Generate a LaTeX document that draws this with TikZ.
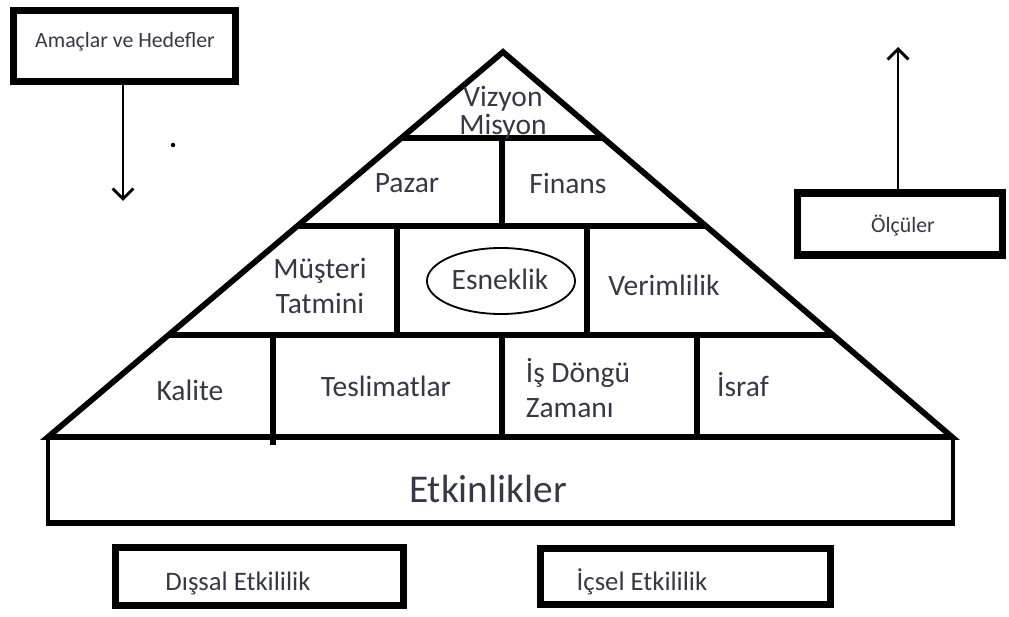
\documentclass[tikz,border=0pt]{standalone}
\usepackage{fontspec}
\setmainfont{Carlito}
\usepackage{xcolor}
\usetikzlibrary{arrows.meta,positioning,calc,shapes.geometric}

\definecolor{labelgray}{RGB}{55,55,72}

\tikzset{
  lbl/.style={text=labelgray,align=center,inner sep=0pt,font=\fontsize{21}{25}\selectfont},
  smalllbl/.style={lbl,font=\fontsize{15.5}{18}\selectfont},
  heavybox/.style={draw,line width=5pt,inner sep=0pt},
  pyr/.style={line width=4.1pt,line join=miter},
  openarrow/.style={line width=2.1pt,-{Straight Barb[length=2.6mm,width=5.2mm,line width=2.1pt]}}
}

\begin{document}
\begin{tikzpicture}[x=0.025cm,y=-0.025cm]
  \useasboundingbox (0,0) rectangle (1009,617);

  % side boxes
  \node[heavybox,minimum width=5.54cm,minimum height=1.79cm] (goals) at (124.5,46) {};
  \node[smalllbl] (goalstext) at (125,42) {Amaçlar ve Hedefler};
  \coordinate (goalsend) at (123,201);
  \draw[openarrow] (goals.south -| goalsend) -- (goalsend);
  \fill (173,145) circle[radius=1.6pt];

  \node[heavybox,minimum width=5.1cm,minimum height=1.55cm] (measures) at (900,224) {};
  \node[smalllbl] (measurestext) at (903,226) {Ölçüler};
  \coordinate (measuresend) at (898,47);
  \draw[openarrow] (measures.north -| measuresend) -- (measuresend);

  % pyramid outline and rows
  \coordinate (apex) at (503,52);
  \coordinate (bl) at (48,437);
  \coordinate (br) at (952,437);
  \draw[pyr] (bl) -- (apex) -- (br) -- cycle;
  \draw[pyr] ($(apex)!0.2234!(bl)$) -- ($(apex)!0.2234!(br)$);
  \draw[pyr] ($(apex)!0.452!(bl)$) -- ($(apex)!0.452!(br)$);
  \draw[pyr] ($(apex)!0.735!(bl)$) -- ($(apex)!0.735!(br)$);
  \draw[pyr] (502,138) -- (502,226);
  \draw[pyr] (397,226) -- (397,335);
  \draw[pyr] (587,226) -- (587,335);
  \draw[pyr] (273,335) -- (273,445);
  \draw[pyr] (502,335) -- (502,437);
  \draw[pyr] (697,335) -- (697,437);

  % base block
  \draw[line width=2.2pt] (bl) -- (48,523) -- (953,523) -- (953,437);
  \draw[line width=4.4pt] (46,523) -- (955,523);

  % labels in the pyramid
  \node[lbl,font=\fontsize{21}{20}\selectfont] (vision) at (503,113) {Vizyon\\Misyon};
  \node[lbl] (market) at (407,183) {Pazar};
  \node[lbl] (finance) at (568,183) {Finans};
  \node[lbl] (customer) at (320,286) {Müşteri\\Tatmini};
  \node[ellipse,draw,line width=1.3pt,minimum width=3.7cm,minimum height=1.65cm] (flexring) at (501,281) {};
  \node[lbl] (flex) at (500,279) {Esneklik};
  \node[lbl] (efficiency) at (664,285) {Verimlilik};
  \node[lbl] (quality) at (190,390) {Kalite};
  \node[lbl] (delivery) at (386,386) {Teslimatlar};
  \node[lbl,align=left] (cycle) at (578,388) {İş Döngü\\Zamanı};
  \node[lbl] (waste) at (743,385) {İsraf};
  \node[lbl,font=\fontsize{28}{32}\selectfont] (activities) at (488,489) {Etkinlikler};

  % bottom boxes
  \node[heavybox,minimum width=7.18cm,minimum height=1.43cm] (outer) at (259.5,576.5) {};
  \node[lbl,font=\fontsize{19}{22}\selectfont] (outertext) at (238,583) {Dışsal Etkililik};
  \node[heavybox,minimum width=7.23cm,minimum height=1.38cm] (inner) at (685.5,576.5) {};
  \node[lbl,font=\fontsize{19}{22}\selectfont] (innertext) at (642,582) {İçsel Etkililik};
\end{tikzpicture}
\end{document}
